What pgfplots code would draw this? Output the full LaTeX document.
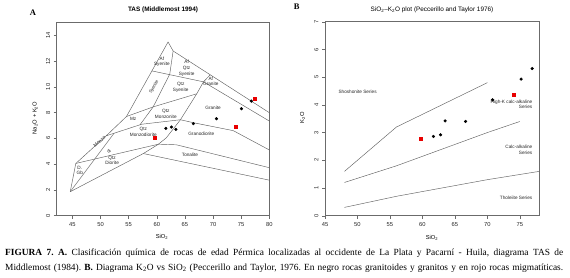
\documentclass[border=0pt]{standalone}
\usepackage{fontspec}
\setmainfont{Liberation Serif}
\newfontfamily\arial{Liberation Sans}
\usepackage{pgfplots}
\pgfplotsset{compat=1.18}
\definecolor{ln}{gray}{0.38}
\definecolor{fr}{gray}{0.42}
\definecolor{rd}{RGB}{232,0,0}
\newcommand\lab{\arial\fontsize{4.7}{5.7}\selectfont}
\pgfplotsset{rstyle/.style={scale only axis, axis line style={fr, line width=0.5pt},
  tick style={fr, line width=0.4pt}, major tick length=3pt, tick align=outside, tick pos=left,
  ticklabel style={font=\arial\fontsize{5.8}{6.5}\selectfont, text=black!85},
  /pgf/number format/assume math mode=true,
  yticklabel style={rotate=90, anchor=south},
  every axis plot/.append style={line width=0.45pt},
}}
\begin{document}
\frenchspacing
\begin{tikzpicture}
\useasboundingbox (0,0) rectangle (570pt,277pt);
% ---------------- A: TAS
\begin{axis}[rstyle, at={(56.7pt,61.5pt)}, anchor=south west, width=212.6pt, height=192.8pt,
  xmin=42.2, xmax=80, ymin=0, ymax=15, xtick={45,50,...,80}, ytick={0,2,...,14}]
\addplot[ln] coordinates {(44.6,1.85)(45.6,4.05)(51.0,6.2)(54.6,7.7)(62.0,13.5)(62.9,12.8)(80,8.0)};
\addplot[ln] coordinates {(44.6,1.85)(57.6,4.82)(60.3,5.55)(61.7,6.05)(64.2,7.45)(67.1,9.47)(68.3,10.4)(69.5,10.95)};
\addplot[ln] coordinates {(57.6,4.82)(80,2.75)};
\addplot[ln] coordinates {(45.6,4.05)(60.3,5.55)(63.5,5.5)(80,3.72)};
\addplot[ln] coordinates {(44.6,1.85)(52.4,6.4)};
\addplot[ln] coordinates {(51.0,6.2)(57.3,7.1)(64.2,7.45)(66.5,7.22)(73.6,6.6)(80,5.1)};
\addplot[ln] coordinates {(54.6,7.7)(59.35,8.45)(67.1,9.47)};
\addplot[ln] coordinates {(59.35,8.45)(57.0,7.05)};
\addplot[ln] coordinates {(62.9,12.8)(62.3,11.0)(59.35,8.45)};
\addplot[ln] coordinates {(59.13,11.25)(68.3,10.4)(80,7.35)};
\addplot[only marks, mark=*, mark size=1.35pt, black] coordinates {(61.6,6.78)(62.6,6.88)(63.4,6.7)(66.5,7.15)(70.6,7.53)(75.05,8.31)(76.8,8.9)};
\addplot[only marks, mark=square*, mark size=1.45pt, rd, mark options={draw=rd,fill=rd}] coordinates {(59.65,6.06)(74.0,6.94)(77.45,9.1)};
\begin{scope}[every node/.style={font=\lab, text=black!85, inner sep=0pt, align=center}]
\node at (axis cs:60.9,11.95) {Af\\Syenite};
\node at (axis cs:65.3,11.45) {Af\\Qtz\\Syenite};
\node at (axis cs:69.6,10.45) {Af\\Granite};
\node at (axis cs:64.25,9.95) {Qtz\\Syenite};
\node[rotate=60, font=\arial\fontsize{4.4}{5}\selectfont] at (axis cs:59.5,10.0) {Syenite};
\node at (axis cs:70.0,8.39) {Granite};
\node at (axis cs:61.6,7.92) {Qtz\\Monzonite};
\node at (axis cs:55.8,7.5) {Mz};
\node at (axis cs:57.6,6.5) {Qtz\\Monzodiorite};
\node at (axis cs:67.9,6.32) {Granodiorite};
\node at (axis cs:65.9,4.74) {Tonalite};
\node at (axis cs:52.05,4.3) {Qtz\\Diorite};
\node at (axis cs:46.3,3.5) {D.\\Gb};
\node[rotate=40] at (axis cs:49.8,5.75) {Monzo};
\node[rotate=40] at (axis cs:51.5,5.0) {di};
\end{scope}
\end{axis}
% ---------------- B: K2O
\begin{axis}[rstyle, at={(325pt,61.3pt)}, anchor=south west, width=214.3pt, height=194pt,
  xmin=45, xmax=78, ymin=0, ymax=7, xtick={45,50,...,75}, ytick={0,...,7}]
\addplot[ln] coordinates {(48,0.3)(52,0.5)(56,0.7)(63,1.0)(70,1.3)(78,1.6)};
\addplot[ln] coordinates {(48,1.2)(52,1.5)(56,1.8)(63,2.4)(70,3.0)(75,3.4)};
\addplot[ln] coordinates {(48,1.6)(52,2.4)(56,3.2)(63,4.0)(70,4.8)};
\addplot[only marks, mark=*, mark size=1.35pt, black] coordinates {(61.7,2.86)(62.8,2.92)(63.5,3.42)(66.65,3.4)(70.8,4.18)(75.2,4.93)(76.9,5.31)};
\addplot[only marks, mark=square*, mark size=1.45pt, rd, mark options={draw=rd,fill=rd}] coordinates {(59.7,2.78)(74.06,4.38)};
\begin{scope}[every node/.style={font=\lab, text=black!85, inner sep=0pt, align=right}]
\node[anchor=west, align=left] at (axis cs:47.05,4.47) {Shoshonite Series};
\node[anchor=east] at (axis cs:76.95,4.02) {High-K calc-alkaline\\Series};
\node[anchor=east] at (axis cs:76.95,2.38) {Calc-alkaline\\Series};
\node[anchor=east] at (axis cs:76.95,0.66) {Tholeiite Series};
\end{scope}
\end{axis}
% ---------------- titles and labels
\node[font=\bfseries\fontsize{8.5}{9}\selectfont] at (33pt,264.5pt) {A};
\node[font=\bfseries\fontsize{8.5}{9}\selectfont] at (296.7pt,270pt) {B};
\node[font=\arial\bfseries\fontsize{6.4}{7}\selectfont] at (163pt,267pt) {TAS (Middlemost 1994)};
\node[font=\arial\fontsize{6.4}{7}\selectfont] at (432pt,267pt) {SiO\textsubscript{2}–K\textsubscript{2}O plot (Peccerillo and Taylor 1976)};
\node[font=\arial\fontsize{5.8}{6.5}\selectfont] at (162pt,40pt) {SiO\textsubscript{2}};
\node[font=\arial\fontsize{5.8}{6.5}\selectfont] at (432pt,39pt) {SiO\textsubscript{2}};
\node[font=\arial\fontsize{5.8}{6.5}\selectfont, rotate=90] at (35pt,159pt) {Na\textsubscript{2}O + K\textsubscript{2}O};
\node[font=\arial\fontsize{5.8}{6.5}\selectfont, rotate=90] at (302.5pt,159.5pt) {K\textsubscript{2}O};
% caption
\node[anchor=base west, inner sep=0pt, font=\fontsize{9.4}{11}\selectfont] at (5pt,21.5pt) {\makebox[558pt][s]{\textbf{FIGURA 7. A.} Clasificación química de rocas de edad Pérmica localizadas al occidente de La Plata y Pacarní - Huila, diagrama TAS de}};
\node[anchor=base west, inner sep=0pt, font=\fontsize{9.4}{11}\selectfont] at (5pt,7pt) {\makebox[558pt][s]{Middlemost (1984). \textbf{B.} Diagrama K\textsubscript{2}O vs SiO\textsubscript{2} (Peccerillo and Taylor, 1976. En negro rocas granitoides y granitos y en rojo rocas migmatíticas.}};
\end{tikzpicture}
\end{document}
